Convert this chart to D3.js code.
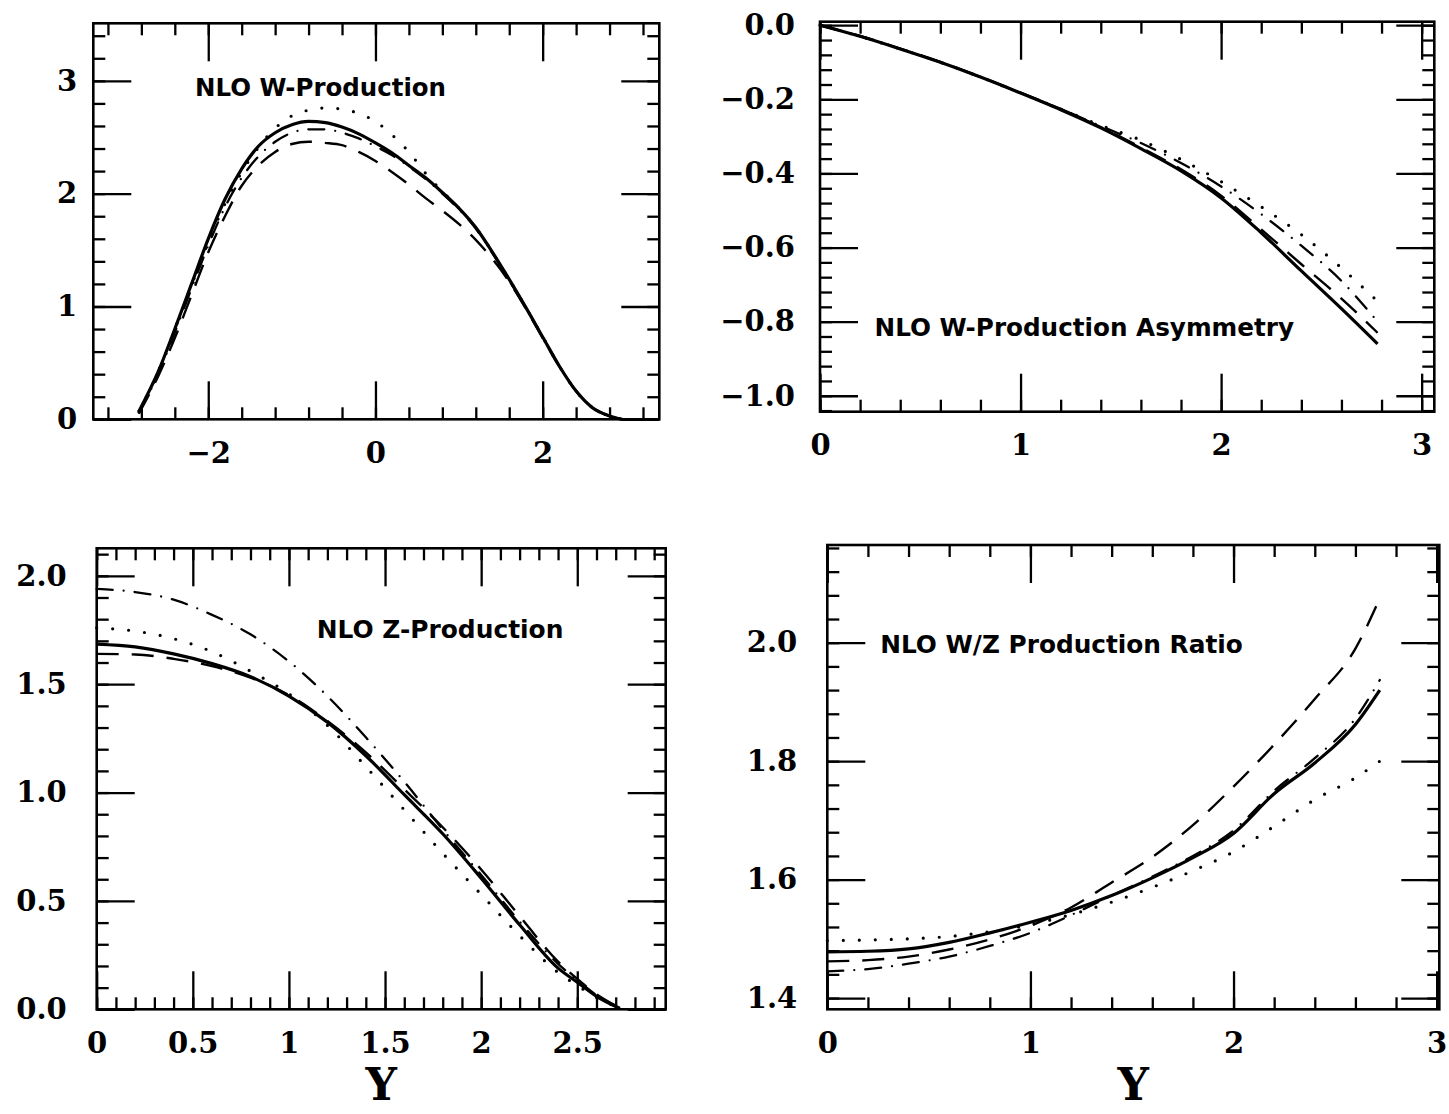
<!DOCTYPE html>
<html>
<head>
<meta charset="utf-8">
<script src="https://cdn.jsdelivr.net/npm/d3@7"></script>
<style>
  body { margin: 0; background: #fff; }
  svg { display: block; }
  .tick text { font-family: "DejaVu Serif", serif; font-size: 29px; font-weight: bold; fill: #000; }
  .tick line { stroke: #000; stroke-width: 2.3px; }
</style>
</head>
<body>
<div id="chart"></div>
<script>
// ---- NLO W production, dsigma/dY vs Y ----
var wY       = [-2.83, -2.6, -2.4, -2.2, -2.0, -1.8, -1.6, -1.4, -1.2, -1.0, -0.8, -0.6, -0.4, -0.2, 0, 0.2, 0.4, 0.6, 0.8, 1.0, 1.2, 1.4, 1.6, 1.8, 2.0, 2.2, 2.4, 2.6, 2.8, 2.95];
var wSolid   = [0.07, 0.42, 0.80, 1.20, 1.60, 1.95, 2.22, 2.42, 2.54, 2.61, 2.64, 2.63, 2.59, 2.53, 2.45, 2.36, 2.25, 2.14, 2.01, 1.87, 1.70, 1.48, 1.24, 0.99, 0.73, 0.47, 0.25, 0.10, 0.03, 0.0];
var wDashed  = [0.05, 0.38, 0.72, 1.10, 1.48, 1.80, 2.07, 2.25, 2.37, 2.44, 2.46, 2.45, 2.43, 2.37, 2.29, 2.19, 2.08, 1.96, 1.85, 1.73, 1.59, 1.42, 1.22, 0.98, 0.72, 0.47, 0.25, 0.10, 0.03, 0.0];
var wDotted  = [0.07, 0.42, 0.80, 1.19, 1.57, 1.91, 2.19, 2.41, 2.58, 2.69, 2.74, 2.76, 2.75, 2.71, 2.64, 2.52, 2.37, 2.18, 2.02, 1.87, 1.70, 1.48, 1.24, 0.99, 0.73, 0.47, 0.25, 0.10, 0.03, 0.0];
var wDashDot = [0.06, 0.40, 0.77, 1.16, 1.54, 1.88, 2.14, 2.33, 2.46, 2.54, 2.57, 2.57, 2.54, 2.49, 2.42, 2.34, 2.24, 2.13, 2.00, 1.86, 1.69, 1.47, 1.23, 0.99, 0.73, 0.47, 0.25, 0.10, 0.03, 0.0];

// ---- NLO W production asymmetry ----
var aY       = [0, 0.2, 0.4, 0.6, 0.8, 1.0, 1.2, 1.4, 1.6, 1.8, 2.0, 2.2, 2.4, 2.6, 2.78];
var aSolid   = [0, -0.030, -0.064, -0.100, -0.140, -0.183, -0.228, -0.277, -0.333, -0.393, -0.466, -0.560, -0.663, -0.765, -0.860];
var aDashed  = [0, -0.029, -0.063, -0.099, -0.139, -0.182, -0.226, -0.275, -0.330, -0.389, -0.460, -0.551, -0.645, -0.738, -0.830];
var aDotted  = [0, -0.030, -0.064, -0.100, -0.140, -0.183, -0.226, -0.270, -0.310, -0.362, -0.422, -0.490, -0.565, -0.655, -0.745];
var aDashDot = [0, -0.030, -0.064, -0.100, -0.140, -0.183, -0.226, -0.272, -0.318, -0.372, -0.435, -0.510, -0.595, -0.690, -0.800];

// ---- NLO Z production ----
var zY       = [0, 0.2, 0.4, 0.6, 0.8, 1.0, 1.2, 1.4, 1.6, 1.8, 2.0, 2.2, 2.4, 2.5, 2.6, 2.72];
var zSolid   = [1.685, 1.672, 1.640, 1.595, 1.535, 1.445, 1.325, 1.170, 0.990, 0.810, 0.605, 0.390, 0.190, 0.125, 0.060, 0.005];
var zDashed  = [1.640, 1.637, 1.617, 1.583, 1.530, 1.450, 1.330, 1.185, 1.015, 0.840, 0.645, 0.430, 0.220, 0.140, 0.070, 0.008];
var zDotted  = [1.760, 1.745, 1.710, 1.650, 1.560, 1.455, 1.310, 1.120, 0.920, 0.720, 0.530, 0.340, 0.170, 0.110, 0.055, 0.005];
var zDashDot = [1.940, 1.925, 1.890, 1.820, 1.730, 1.605, 1.445, 1.255, 1.050, 0.830, 0.620, 0.405, 0.210, 0.135, 0.065, 0.005];

// ---- NLO W/Z production ratio ----
var rY       = [0, 0.2, 0.4, 0.6, 0.8, 1.0, 1.2, 1.4, 1.6, 1.8, 2.0, 2.2, 2.4, 2.6, 2.72];
var rSolid   = [1.478, 1.479, 1.483, 1.494, 1.510, 1.528, 1.548, 1.573, 1.603, 1.637, 1.678, 1.745, 1.797, 1.862, 1.920];
var rDashed  = [1.462, 1.464, 1.470, 1.482, 1.499, 1.522, 1.553, 1.595, 1.638, 1.692, 1.757, 1.828, 1.905, 1.990, 2.075];
var rDotted  = [1.497, 1.498, 1.500, 1.504, 1.512, 1.524, 1.541, 1.562, 1.587, 1.615, 1.647, 1.690, 1.735, 1.772, 1.800];
var rDashDot = [1.445, 1.449, 1.458, 1.470, 1.488, 1.510, 1.540, 1.573, 1.605, 1.640, 1.683, 1.750, 1.805, 1.872, 1.937];

// line styles: solid, dashed, dotted, dash-dot
var styles = [
  { dash: null,         w: 3.2, cap: "butt" },
  { dash: "22,13",      w: 2.4, cap: "butt" },
  { dash: "0,16",       w: 3.2, cap: "round" },
  { dash: "16,11,0,11", w: 2.3, cap: "round" }
];

var svg = d3.select("#chart").append("svg")
    .attr("width", 1449)
    .attr("height", 1114);

// box = [left, top, right, bottom] of the frame in pixels
var panels = [
  { box: [93.3, 23.3, 659.3, 419.3], xDom: [-3.375, 3.395], yDom: [0, 3.51],
    xMaj: 2, xMin: 0.4, yMaj: 1, yMin: 0.2, xFmt: d3.format("~g"), yFmt: d3.format("~g"), yPad: 16,
    x: wY, series: [wSolid, wDashed, wDotted, wDashDot],
    title: "NLO W-Production", tPos: [195, 95.5, 251] },
  { box: [820, 21.7, 1434.3, 411.7], xDom: [0, 3.063], yDom: [-1.043, 0.0095],
    xMaj: 1, xMin: 0.2, yMaj: 0.2, yMin: 0.04, xFmt: d3.format("~g"), yFmt: d3.format(".1f"), yPad: 25,
    x: aY, series: [aSolid, aDashed, aDotted, aDashDot],
    title: "NLO W-Production Asymmetry", tPos: [874.5, 336, 419.5] },
  { box: [96.7, 548.3, 665.7, 1009.3], xDom: [0, 2.96], yDom: [0, 2.127],
    xMaj: 0.5, xMin: 0.1, yMaj: 0.5, yMin: 0.1, xFmt: d3.format("~g"), yFmt: d3.format(".1f"), yPad: 30,
    x: zY, series: [zSolid, zDashed, zDotted, zDashDot],
    title: "NLO Z-Production", tPos: [316.7, 637.5, 246.7], xLabel: "Y" },
  { box: [827.3, 545, 1439.3, 1009.3], xDom: [0, 3.013], yDom: [1.381, 2.165],
    xMaj: 1, xMin: 0.2, yMaj: 0.2, yMin: 0.04, xFmt: d3.format("~g"), yFmt: d3.format(".1f"), yPad: 30,
    x: rY, series: [rSolid, rDashed, rDotted, rDashDot],
    title: "NLO W/Z Production Ratio", tPos: [880.2, 653, 362.6], xLabel: "Y" }
];

// tick values at multiples of step inside the domain
function stepTicks(dom, step) {
  var lo = Math.ceil(Math.min(dom[0], dom[1]) / step - 1e-9),
      hi = Math.floor(Math.max(dom[0], dom[1]) / step + 1e-9);
  return d3.range(lo, hi + 1).map(function(i) { return +(i * step).toFixed(6); });
}

function noDomain(g) { g.select(".domain").remove(); }

panels.forEach(function(p) {
  var b = p.box;
  var x = d3.scaleLinear().domain(p.xDom).range([b[0], b[2]]);
  var y = d3.scaleLinear().domain(p.yDom).range([b[3], b[1]]);
  var g = svg.append("g");

  // curves
  var line = d3.line()
      .x(function(d) { return x(d[0]); })
      .y(function(d) { return y(d[1]); })
      .curve(d3.curveMonotoneX);

  p.series.forEach(function(vals, i) {
    var s = styles[i];
    g.append("path")
        .datum(p.x.map(function(v, j) { return [v, vals[j]]; }))
        .attr("d", line)
        .attr("fill", "none")
        .attr("stroke", "#000")
        .attr("stroke-width", s.w)
        .attr("stroke-linecap", s.cap)
        .attr("stroke-linejoin", "round")
        .attr("stroke-dasharray", s.dash);
  });

  var xMinor = stepTicks(p.xDom, p.xMin), xMajor = stepTicks(p.xDom, p.xMaj);
  var yMinor = stepTicks(p.yDom, p.yMin), yMajor = stepTicks(p.yDom, p.yMaj);

  // minor ticks, all four sides, pointing inward
  g.append("g").attr("transform", "translate(0," + b[3] + ")")
      .call(d3.axisBottom(x).tickValues(xMinor).tickSize(-12).tickFormat("")).call(noDomain);
  g.append("g").attr("transform", "translate(0," + b[1] + ")")
      .call(d3.axisTop(x).tickValues(xMinor).tickSize(-12).tickFormat("")).call(noDomain);
  g.append("g").attr("transform", "translate(" + b[0] + ",0)")
      .call(d3.axisLeft(y).tickValues(yMinor).tickSize(-12).tickFormat("")).call(noDomain);
  g.append("g").attr("transform", "translate(" + b[2] + ",0)")
      .call(d3.axisRight(y).tickValues(yMinor).tickSize(-12).tickFormat("")).call(noDomain);

  // major ticks with labels on bottom and left
  g.append("g").attr("transform", "translate(0," + b[3] + ")")
      .call(d3.axisBottom(x).tickValues(xMajor).tickSize(-38).tickPadding(23).tickFormat(p.xFmt)).call(noDomain);
  g.append("g").attr("transform", "translate(0," + b[1] + ")")
      .call(d3.axisTop(x).tickValues(xMajor).tickSize(-38).tickFormat("")).call(noDomain);
  g.append("g").attr("transform", "translate(" + b[0] + ",0)")
      .call(d3.axisLeft(y).tickValues(yMajor).tickSize(-38).tickPadding(p.yPad).tickFormat(p.yFmt)).call(noDomain);
  g.append("g").attr("transform", "translate(" + b[2] + ",0)")
      .call(d3.axisRight(y).tickValues(yMajor).tickSize(-38).tickFormat("")).call(noDomain);

  // frame
  g.append("rect")
      .attr("x", b[0]).attr("y", b[1])
      .attr("width", b[2] - b[0]).attr("height", b[3] - b[1])
      .attr("fill", "none")
      .attr("stroke", "#000")
      .attr("stroke-width", 2.6);

  // in-plot title
  g.append("text")
      .attr("x", p.tPos[0]).attr("y", p.tPos[1])
      .attr("textLength", p.tPos[2])
      .attr("lengthAdjust", "spacingAndGlyphs")
      .style("font-family", "'DejaVu Sans', sans-serif")
      .style("font-weight", "bold")
      .style("font-size", "24px")
      .text(p.title);

  // axis title under the bottom panels
  if (p.xLabel) {
    g.append("text")
        .attr("x", (b[0] + b[2]) / 2).attr("y", 1100)
        .attr("text-anchor", "middle")
        .style("font-family", "'DejaVu Serif', serif")
        .style("font-weight", "bold")
        .style("font-size", "44px")
        .text(p.xLabel);
  }
});
</script>
</body>
</html>
